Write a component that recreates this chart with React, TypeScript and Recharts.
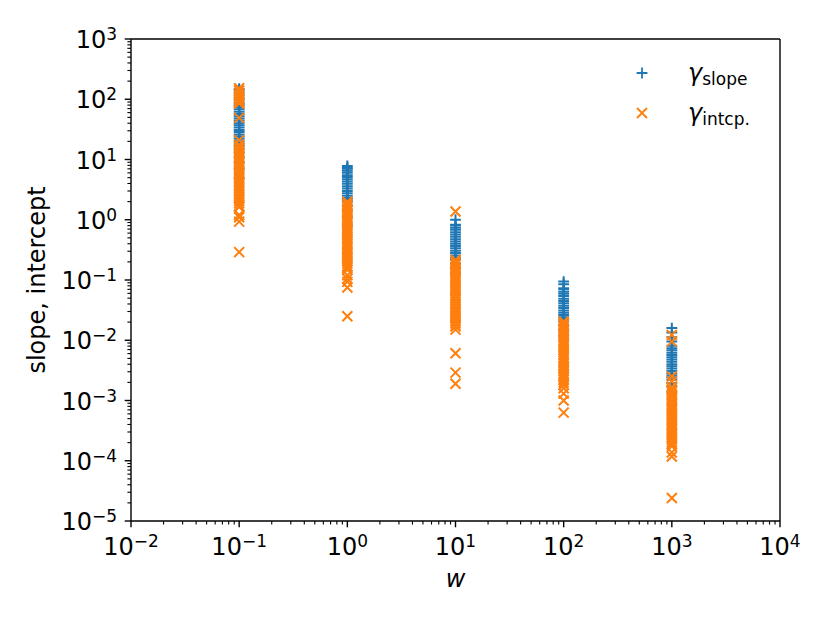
import { ScatterChart, Scatter, XAxis, YAxis, Legend, ReferenceLine } from 'recharts'

const FONT = '"DejaVu Sans", sans-serif'
const BLUE = '#1f77b4'
const ORANGE = '#ff7f0e'

// x positions of the five columns (w)
const wValues = [0.1, 1, 10, 100, 1000]

// gamma_slope, read column by column
const slopeW01 = [150, 142, 128, 115, 104, 95, 87, 80, 74, 68, 62, 57, 52, 48, 44, 40, 37, 34, 31, 28.5, 26, 24, 22, 20, 18.3, 16.8, 15, 13, 11, 9, 7, 5]
const slopeW1 = [7.8, 7.3, 7.0, 6.5, 6.0, 5.5, 5.1, 4.7, 4.3, 3.95, 3.6, 3.3, 3.0, 2.75, 2.5, 2.3, 2.1, 1.95, 1.7, 1.4, 1.1, 0.8]
const slopeW10 = [1.0, 0.83, 0.8, 0.74, 0.68, 0.62, 0.57, 0.52, 0.475, 0.435, 0.4, 0.365, 0.335, 0.305, 0.28, 0.255, 0.235, 0.216, 0.19, 0.16, 0.13]
const slopeW100 = [0.094, 0.085, 0.073, 0.07, 0.064, 0.059, 0.054, 0.049, 0.045, 0.041, 0.0375, 0.0343, 0.0313, 0.0286, 0.0262, 0.024, 0.022, 0.0205, 0.018, 0.015, 0.012]
const slopeW1000 = [0.0159, 0.0135, 0.0112, 0.0095, 0.0081, 0.0074, 0.0068, 0.0062, 0.0057, 0.0052, 0.0048, 0.0044, 0.004, 0.0037, 0.0034, 0.0031, 0.0028, 0.0026, 0.0024, 0.0022, 0.00195, 0.0017, 0.0014]

// gamma_intcp.
const interceptW01 = [152, 140, 126, 112, 100, 92, 85, 49, 21, 17.5, 16, 14.6, 13.3, 12.1, 11, 10, 9.1, 8.3, 7.6, 6.9, 6.3, 5.7, 5.2, 4.75, 4.3, 3.95, 3.6, 3.3, 3.0, 2.7, 2.45, 2.25, 2.05, 1.87, 1.7, 1.62, 1.2, 1.1, 0.93, 0.29]
const interceptW1 = [2.0, 1.83, 1.67, 1.52, 1.39, 1.27, 1.16, 1.06, 0.97, 0.88, 0.8, 0.73, 0.67, 0.61, 0.56, 0.51, 0.465, 0.425, 0.39, 0.355, 0.325, 0.295, 0.27, 0.245, 0.225, 0.205, 0.187, 0.17, 0.158, 0.148, 0.12, 0.105, 0.093, 0.075, 0.025]
const interceptW10 = [1.37, 0.216, 0.198, 0.181, 0.165, 0.151, 0.138, 0.126, 0.115, 0.105, 0.096, 0.088, 0.08, 0.073, 0.067, 0.061, 0.056, 0.051, 0.047, 0.043, 0.039, 0.0355, 0.0325, 0.0297, 0.0272, 0.0248, 0.0227, 0.0207, 0.019, 0.0173, 0.017, 0.015, 0.0061, 0.0029, 0.0019]
const interceptW100 = [0.0205, 0.0188, 0.0172, 0.0157, 0.0143, 0.0131, 0.012, 0.011, 0.01, 0.0092, 0.0084, 0.0077, 0.007, 0.0064, 0.0058, 0.0053, 0.0049, 0.0045, 0.0041, 0.0037, 0.0034, 0.0031, 0.0028, 0.0026, 0.0024, 0.0022, 0.002, 0.00183, 0.0016, 0.0013, 0.001, 0.00063]
const interceptW1000 = [0.0123, 0.0095, 0.0025, 0.0021, 0.00166, 0.00152, 0.00139, 0.00127, 0.00116, 0.00106, 0.00097, 0.00088, 0.0008, 0.00073, 0.00067, 0.00061, 0.00056, 0.00051, 0.000465, 0.000425, 0.00039, 0.000355, 0.000325, 0.000295, 0.00027, 0.000245, 0.000225, 0.000205, 0.000188, 0.000173, 0.000137, 0.000118, 0.0000241]

const xMajorTicks = [0.01, 0.1, 1, 10, 100, 1000, 10000]
const yMajorTicks = [1e-5, 1e-4, 1e-3, 0.01, 0.1, 1, 10, 100, 1000]

const toPoints = (cols: number[][]) =>
  cols.flatMap((col, i) => col.map((v) => ({ w: wValues[i], v })))

const slopePoints = toPoints([slopeW01, slopeW1, slopeW10, slopeW100, slopeW1000])
const interceptPoints = toPoints([interceptW01, interceptW1, interceptW10, interceptW100, interceptW1000])

// log minor ticks 2..9 in every decade
const withMinors = (majors: number[]) => [
  ...majors,
  ...majors.slice(0, -1).flatMap((m) => [2, 3, 4, 5, 6, 7, 8, 9].map((k) => m * k)),
]

const isMajor = (v: number) => Math.abs(Math.log10(v) - Math.round(Math.log10(v))) < 1e-6
const expText = (v: number) => {
  const e = Math.round(Math.log10(v))
  return e < 0 ? '\u2212' + Math.abs(e) : String(e)
}

function XTick(props: any) {
  const { x, y, payload } = props
  const major = isMajor(payload.value)
  return (
    <g>
      <line x1={x} x2={x} y1={y} y2={y + (major ? 6.3 : 3.6)} stroke="#000" strokeWidth={major ? 1.4 : 1.1} />
      {major && (
        <text x={x} y={y + 33.5} textAnchor="middle" fontSize={24} fontFamily={FONT} fill="#000">
          10<tspan dy={-8} fontSize={17}>{expText(payload.value)}</tspan>
        </text>
      )}
    </g>
  )
}

function YTick(props: any) {
  const { x, y, payload } = props
  const major = isMajor(payload.value)
  return (
    <g>
      <line x1={x} x2={x - (major ? 6.3 : 3.6)} y1={y} y2={y} stroke="#000" strokeWidth={major ? 1.4 : 1.1} />
      {major && (
        <text x={x - 14} y={y + 9} textAnchor="end" fontSize={24} fontFamily={FONT} fill="#000">
          10<tspan dy={-8} fontSize={17}>{expText(payload.value)}</tspan>
        </text>
      )}
    </g>
  )
}

const plusShape = (color: string) => (p: any) => (
  <path
    d={`M${p.cx - 5.4},${p.cy}H${p.cx + 5.4}M${p.cx},${p.cy - 5.4}V${p.cy + 5.4}`}
    stroke={color}
    strokeWidth={2}
    fill="none"
  />
)

const crossShape = (color: string) => (p: any) => (
  <path
    d={`M${p.cx - 5},${p.cy - 5}L${p.cx + 5},${p.cy + 5}M${p.cx - 5},${p.cy + 5}L${p.cx + 5},${p.cy - 5}`}
    stroke={color}
    strokeWidth={2}
    fill="none"
  />
)

function LegendBox() {
  return (
    <svg width={170} height={90} style={{ overflow: 'visible' }}>
      <path d="M16.6,23H27.4M22,17.6V28.4" stroke={BLUE} strokeWidth={1.8} fill="none" />
      <path d="M17,58L27,68M17,68L27,58" stroke={ORANGE} strokeWidth={1.8} fill="none" />
      <text x={68} y={31} fontSize={24} fontFamily={FONT} fill="#000">
        <tspan fontStyle="italic">γ</tspan>
        <tspan fontSize={17} dy={3.5}>slope</tspan>
      </text>
      <text x={68} y={71} fontSize={24} fontFamily={FONT} fill="#000">
        <tspan fontStyle="italic">γ</tspan>
        <tspan fontSize={17} dy={3.5}>intcp.</tspan>
      </text>
    </svg>
  )
}

export default function App() {
  return (
    <div style={{ position: 'absolute', left: 0, top: 0, width: 830, height: 623, background: '#fff' }}>
      <ScatterChart width={830} height={623} margin={{ top: 39, right: 50, bottom: 0, left: 0 }}>
        <XAxis
          dataKey="w"
          type="number"
          scale="log"
          domain={[0.01, 10000]}
          allowDataOverflow
          ticks={withMinors(xMajorTicks)}
          interval={0}
          tickSize={0}
          tickMargin={0}
          tick={<XTick />}
          height={102}
          axisLine={{ stroke: '#000', strokeWidth: 1.4 }}
          label={{ value: 'w', position: 'insideBottom', offset: 36, fontSize: 24, fontStyle: 'italic', fill: '#000', fontFamily: FONT }}
        />
        <YAxis
          dataKey="v"
          type="number"
          scale="log"
          domain={[1e-5, 1000]}
          allowDataOverflow
          ticks={withMinors(yMajorTicks)}
          interval={0}
          tickSize={0}
          tickMargin={0}
          tick={<YTick />}
          width={131}
          axisLine={{ stroke: '#000', strokeWidth: 1.4 }}
          label={{ value: 'slope, intercept', angle: -90, position: 'insideLeft', offset: 36, fontSize: 24, fill: '#000', fontFamily: FONT, style: { textAnchor: 'middle' } }}
        />
        <ReferenceLine y={1000} stroke="#000" strokeWidth={1.4} />
        <ReferenceLine x={10000} stroke="#000" strokeWidth={1.4} />
        <Scatter name="slope" data={slopePoints} shape={plusShape(BLUE)} isAnimationActive={false} />
        <Scatter name="intcp" data={interceptPoints} shape={crossShape(ORANGE)} isAnimationActive={false} />
        <Legend
          layout="vertical"
          align="center"
          verticalAlign="middle"
          wrapperStyle={{ left: 620, top: 50, width: 170, height: 90 }}
          content={() => <LegendBox />}
        />
      </ScatterChart>
    </div>
  )
}
